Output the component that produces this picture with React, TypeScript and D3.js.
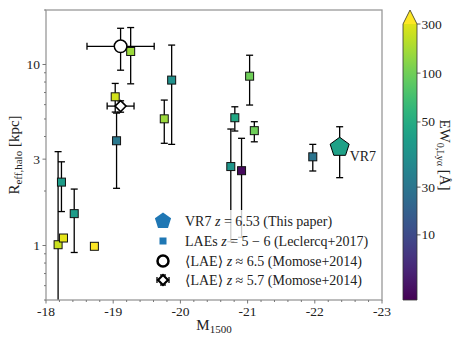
import React from "react";
import * as d3 from "d3";

// LAEs z = 5-6 (Leclercq+2017)
const laeMag = [-18.18, -18.26, -18.23, -18.42, -18.72, -19.03, -19.05, -19.26, -19.87, -19.76, -21.03, -20.81, -21.1, -20.75, -20.91, -21.97];
const laeR = [1.01, 1.1, 2.24, 1.5, 0.99, 6.63, 3.79, 11.8, 8.2, 5.01, 8.62, 5.08, 4.31, 2.73, 2.59, 3.09];
const laeRLo = [0.2, null, 1.54, 0.915, null, 5.46, 2.07, 7.82, 3.62, 3.67, 5.97, 4.29, 3.74, 1.05, 1.11, 2.58];
const laeRHi = [3.3, null, 2.9, 2.05, null, 7.86, 5.39, 16.0, 12.8, 6.36, 11.25, 5.84, 4.83, 4.4, 3.91, 3.62];
const laeEW = [210, 255, 42, 42, 300, 221, 29, 131, 38, 131, 88, 46, 88, 40, 1, 27];

// <LAE> stacks (Momose+2014): z~6.5 circle, z~5.7 diamond
const momoseMag = [-19.11, -19.11];
const momoseMagLo = [-18.61, -18.91];
const momoseMagHi = [-19.61, -19.31];
const momoseR = [12.6, 5.89];
const momoseRLo = [9.3, 5.45];
const momoseRHi = [15.85, 6.3];

// VR7
const vr7Mag = -22.37;
const vr7R = 3.49;
const vr7RLo = 2.37;
const vr7RHi = 4.53;
const vr7EW = 44;

const xTicks = [-18, -19, -20, -21, -22, -23];
const yTicks = [1, 3, 10];
const yMinor = [0.5, 0.6, 0.7, 0.8, 0.9, 2, 4, 5, 6, 7, 8, 9, 20];
const cbTicks = [10, 30, 50, 100, 300];
const cbNormDomain = [0, 10, 30, 50, 100, 300];
const cbNormRange = [0, 0.236, 0.409, 0.645, 0.822, 1];

const font = "'Liberation Serif', 'DejaVu Serif', serif";
const ink = "#222";

const pentagon = (cx: number, cy: number, r: number) =>
  d3
    .range(5)
    .map((i) => {
      const a = -Math.PI / 2 + (i * 2 * Math.PI) / 5;
      return `${cx + r * Math.cos(a)},${cy + r * Math.sin(a)}`;
    })
    .join(" ");

const diamond = (cx: number, cy: number, r: number) =>
  `${cx},${cy - r} ${cx + r},${cy} ${cx},${cy + r} ${cx - r},${cy}`;

const VErr = ({ x, y0, y1, cap = 3.5, stroke = "#000" }: any) => (
  <g stroke={stroke} strokeWidth={1.3}>
    <line x1={x} x2={x} y1={y0} y2={y1} />
    <line x1={x - cap} x2={x + cap} y1={y0} y2={y0} />
    <line x1={x - cap} x2={x + cap} y1={y1} y2={y1} />
  </g>
);

const HErr = ({ y, x0, x1, cap = 3.5 }: any) => (
  <g stroke="#000" strokeWidth={1.3}>
    <line x1={x0} x2={x1} y1={y} y2={y} />
    <line x1={x0} x2={x0} y1={y - cap} y2={y + cap} />
    <line x1={x1} x2={x1} y1={y - cap} y2={y + cap} />
  </g>
);

const App = () => {
  const left = 46, right = 382, top = 10, bottom = 300;
  const x = d3.scaleLinear().domain([-18, -23]).range([left, right]);
  const y = d3.scaleLog().domain([0.5, 20]).range([bottom, top]);
  const norm = d3.scaleLinear().domain(cbNormDomain).range(cbNormRange).clamp(true);
  const color = (ew: number) => d3.interpolateViridis(norm(ew));

  const cbL = 403, cbR = 417, cbTop = 24, cbBot = 300, cbTip = 10;
  const cbY = d3.scaleLinear().domain([0, 1]).range([cbBot, cbTop]);
  const xMinor = d3.range(-18, -23.01, -0.2).filter((v) => Math.abs(v - Math.round(v)) > 0.01);

  const legX = 163;
  const legRows = [221, 241, 261, 280];

  return (
    <svg width={474} height={346} style={{ position: "absolute", left: 0, top: 0, background: "#fff" }}>
      <defs>
        <clipPath id="plotClip">
          <rect x={left} y={top} width={right - left} height={bottom - top} />
        </clipPath>
        <linearGradient id="viridis" x1="0" y1="1" x2="0" y2="0">
          {d3.range(0, 1.0001, 0.05).map((t) => (
            <stop key={t} offset={t} stopColor={d3.interpolateViridis(t)} />
          ))}
        </linearGradient>
      </defs>

      <g clipPath="url(#plotClip)">
        {/* LAE error bars */}
        {laeMag.map((m, i) =>
          laeRLo[i] != null ? (
            <VErr key={"e" + i} x={x(m)} y0={y(laeRLo[i] as number)} y1={y(laeRHi[i] as number)} />
          ) : null
        )}
        {/* Momose error bars */}
        {momoseMag.map((m, i) => (
          <g key={"me" + i}>
            <VErr x={x(m)} y0={y(momoseRLo[i])} y1={y(momoseRHi[i])} />
            <HErr y={y(momoseR[i])} x0={x(momoseMagLo[i])} x1={x(momoseMagHi[i])} />
          </g>
        ))}
        <VErr x={x(vr7Mag)} y0={y(vr7RLo)} y1={y(vr7RHi)} />

        {/* LAE squares */}
        {laeMag.map((m, i) => (
          <rect
            key={"s" + i}
            x={x(m) - 4}
            y={y(laeR[i]) - 4}
            width={8}
            height={8}
            fill={color(laeEW[i])}
            stroke="#111"
            strokeWidth={1}
          />
        ))}
        {/* Momose markers */}
        <circle cx={x(momoseMag[0])} cy={y(momoseR[0])} r={6.3} fill="#fff" stroke="#000" strokeWidth={1.5} />
        <polygon points={diamond(x(momoseMag[1]), y(momoseR[1]), 5.5)} fill="#fff" stroke="#000" strokeWidth={1.5} />
        {/* VR7 */}
        <polygon points={pentagon(x(vr7Mag), y(vr7R), 10)} fill={color(vr7EW)} stroke="#000" strokeWidth={1} />
      </g>
      <text x={x(vr7Mag) + 10} y={y(vr7R) + 14} fontFamily={font} fontSize={14} fill={ink}>VR7</text>

      {/* legend */}
      <rect x={150} y={210} width={231} height={84} fill="#fff" fillOpacity={0.8} />
      <polygon points={pentagon(legX, legRows[0], 8.5)} fill="#1f77b4" />
      <rect x={legX - 3.5} y={legRows[1] - 3.5} width={7} height={7} fill="#1f77b4" />
      <circle cx={legX} cy={legRows[2]} r={5.5} fill="#fff" stroke="#000" strokeWidth={2.5} />
      <g>
        <VErr x={legX} y0={legRows[3] - 5} y1={legRows[3] + 5} cap={3} />
        <HErr y={legRows[3]} x0={legX - 6} x1={legX + 6} cap={3} />
        <polygon points={diamond(legX, legRows[3], 5)} fill="#fff" stroke="#000" strokeWidth={2.2} />
      </g>
      <g fontFamily={font} fontSize={14} fill={ink}>
        <text x={185} y={legRows[0] + 4.5}>VR7 <tspan fontStyle="italic">z</tspan> = 6.53 (This paper)</text>
        <text x={185} y={legRows[1] + 4.5}>LAEs <tspan fontStyle="italic">z</tspan> = 5 − 6 (Leclercq+2017)</text>
        <text x={185} y={legRows[2] + 4.5}>⟨LAE⟩ <tspan fontStyle="italic">z</tspan> ≈ 6.5 (Momose+2014)</text>
        <text x={185} y={legRows[3] + 4.5}>⟨LAE⟩ <tspan fontStyle="italic">z</tspan> ≈ 5.7 (Momose+2014)</text>
      </g>

      {/* frame */}
      <rect x={left} y={top} width={right - left} height={bottom - top} fill="none" stroke="#999" strokeWidth={1.3} />

      {/* x axis */}
      <g stroke="#777" strokeWidth={1}>
        {xTicks.map((t) => (
          <line key={t} x1={x(t)} x2={x(t)} y1={bottom} y2={bottom + 3.5} />
        ))}
        {xMinor.map((t) => (
          <line key={t} x1={x(t)} x2={x(t)} y1={bottom} y2={bottom + 2} />
        ))}
      </g>
      <g fontFamily={font} fontSize={13.5} fill={ink} textAnchor="middle">
        {xTicks.map((t) => (
          <text key={t} x={x(t)} y={bottom + 16}>{`-${Math.abs(t)}`}</text>
        ))}
      </g>
      <text x={(left + right) / 2} y={330} fontFamily={font} fontSize={15} fill={ink} textAnchor="middle">
        M<tspan fontSize={11} dy={3}>1500</tspan>
      </text>

      {/* y axis */}
      <g stroke="#777" strokeWidth={1}>
        {yTicks.map((t) => (
          <line key={t} x1={left} x2={left - 3.5} y1={y(t)} y2={y(t)} />
        ))}
        {yMinor.map((t) => (
          <line key={t} x1={left} x2={left - 2} y1={y(t)} y2={y(t)} />
        ))}
      </g>
      <g fontFamily={font} fontSize={13.5} fill={ink} textAnchor="end">
        {yTicks.map((t) => (
          <text key={t} x={left - 6} y={y(t) + 4.5}>{t}</text>
        ))}
      </g>
      <text
        transform={`translate(19,${(top + bottom) / 2}) rotate(-90)`}
        fontFamily={font}
        fontSize={15}
        fill={ink}
        textAnchor="middle"
      >
        R<tspan fontSize={11} dy={3}>eff,halo</tspan>
        <tspan dy={-3}> [kpc]</tspan>
      </text>

      {/* colorbar */}
      <polygon
        points={`${cbL},${cbBot} ${cbL},${cbTop} ${(cbL + cbR) / 2},${cbTip} ${cbR},${cbTop} ${cbR},${cbBot}`}
        fill="url(#viridis)"
      />
      <polygon
        points={`${cbL},${cbTop} ${(cbL + cbR) / 2},${cbTip} ${cbR},${cbTop}`}
        fill={d3.interpolateViridis(1)}
      />
      <polygon
        points={`${cbL},${cbBot} ${cbL},${cbTop} ${(cbL + cbR) / 2},${cbTip} ${cbR},${cbTop} ${cbR},${cbBot}`}
        fill="none"
        stroke="#333"
        strokeWidth={0.8}
      />
      <g stroke="#333" strokeWidth={0.8}>
        {cbTicks.map((t) => (
          <line key={t} x1={cbR} x2={cbR + 3.5} y1={cbY(norm(t))} y2={cbY(norm(t))} />
        ))}
      </g>
      <g fontFamily={font} fontSize={13.5} fill={ink}>
        {cbTicks.map((t) => (
          <text key={t} x={cbR + 4.5} y={cbY(norm(t)) + 4.5}>{t}</text>
        ))}
      </g>
      <text
        transform={`translate(440,${(cbTip + cbBot) / 2}) rotate(90)`}
        fontFamily={font}
        fontSize={15}
        fill={ink}
        textAnchor="middle"
      >
        EW<tspan fontSize={10} dy={3}>0,Lyα</tspan>
        <tspan dy={-3}> [Å]</tspan>
      </text>
    </svg>
  );
};

export default App;
